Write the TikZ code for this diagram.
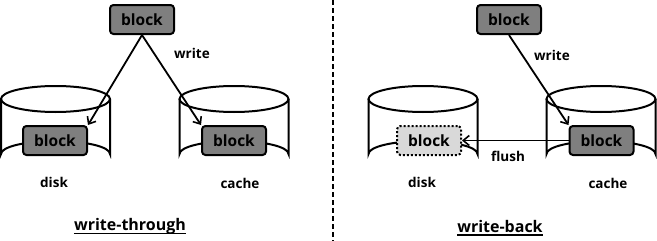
\documentclass[tikz,border=0pt]{standalone}
\usepackage{fontspec}
\setmainfont{Open Sans}
\usetikzlibrary{arrows.meta}
\definecolor{blkgray}{RGB}{127,127,127}
\definecolor{ghostgray}{RGB}{217,217,217}
\tikzset{
  blk/.style={draw=black, line width=2pt, rounded corners=3.5pt, fill=blkgray,
    minimum width=64pt, minimum height=29pt, inner sep=0pt, font=\fontsize{15.5}{15.5}\selectfont\bfseries},
  ghost/.style={blk, fill=ghostgray, dotted, line width=2pt},
  lbl/.style={font=\fontsize{13.5}{13.5}\selectfont\bfseries, inner sep=0pt},
  ttl/.style={font=\fontsize{16}{16}\selectfont\bfseries, inner sep=0pt},
  arr/.style={line width=1.8pt, -{Straight Barb[length=6pt,width=10pt,line width=1.6pt]}},
  cyl/.style={line width=2pt}
}
\newcommand{\mycyl}[1]{%
  \draw[cyl, fill=white] (#1-54.5,99) -- (#1-54.5,154) arc[start angle=180,end angle=360,x radius=54.5,y radius=13] -- (#1+54.5,99);
  \draw[cyl] (#1,99) ellipse[x radius=54.5, y radius=13];
}
\begin{document}
\begin{tikzpicture}[x=1pt,y=-1pt]
\useasboundingbox (0,0) rectangle (657,241);
% divider
\coordinate (dtop) at (333,0);
\coordinate (dbot) at (333,241);
\draw[line width=1.5pt, dash pattern=on 5pt off 3pt] (dtop) -- (dbot);
% left panel
\mycyl{55.5}
\mycyl{234}
\node[blk] (t1) at (142,19.5) {block};
\node[blk] (d1) at (55,140.5) {block};
\node[blk] (c1) at (234,140.5) {block};
\draw[arr] (t1.south) -- (d1.north east);
\draw[arr] (t1.south) -- (c1.north west);
\node[lbl] (w1) at (192,53) {write};
\node[lbl] (dl1) at (54,182) {disk};
\node[lbl] (cl1) at (240,183) {cache};
\node[ttl] (tt1) at (130,226) {write-through};
\draw[line width=1.3pt] ([yshift=-3pt]tt1.base west) -- ([yshift=-3pt]tt1.base east);
% right panel
\mycyl{423}
\mycyl{601}
\node[blk] (t2) at (509,19.5) {block};
\node[ghost] (d2) at (429,140.5) {block};
\node[blk] (c2) at (601.5,140.5) {block};
\draw[arr] (t2.south) -- (c2.north west);
\draw[arr] (c2.west) -- (d2.east);
\node[lbl] (w2) at (552,55) {write};
\node[lbl] (fl) at (508,156) {flush};
\node[lbl] (dl2) at (422,182) {disk};
\node[lbl] (cl2) at (608,183) {cache};
\node[ttl] (tt2) at (500,226) {write-back};
\draw[line width=1.3pt] ([yshift=-3pt]tt2.base west) -- ([yshift=-3pt]tt2.base east);
\end{tikzpicture}
\end{document}
